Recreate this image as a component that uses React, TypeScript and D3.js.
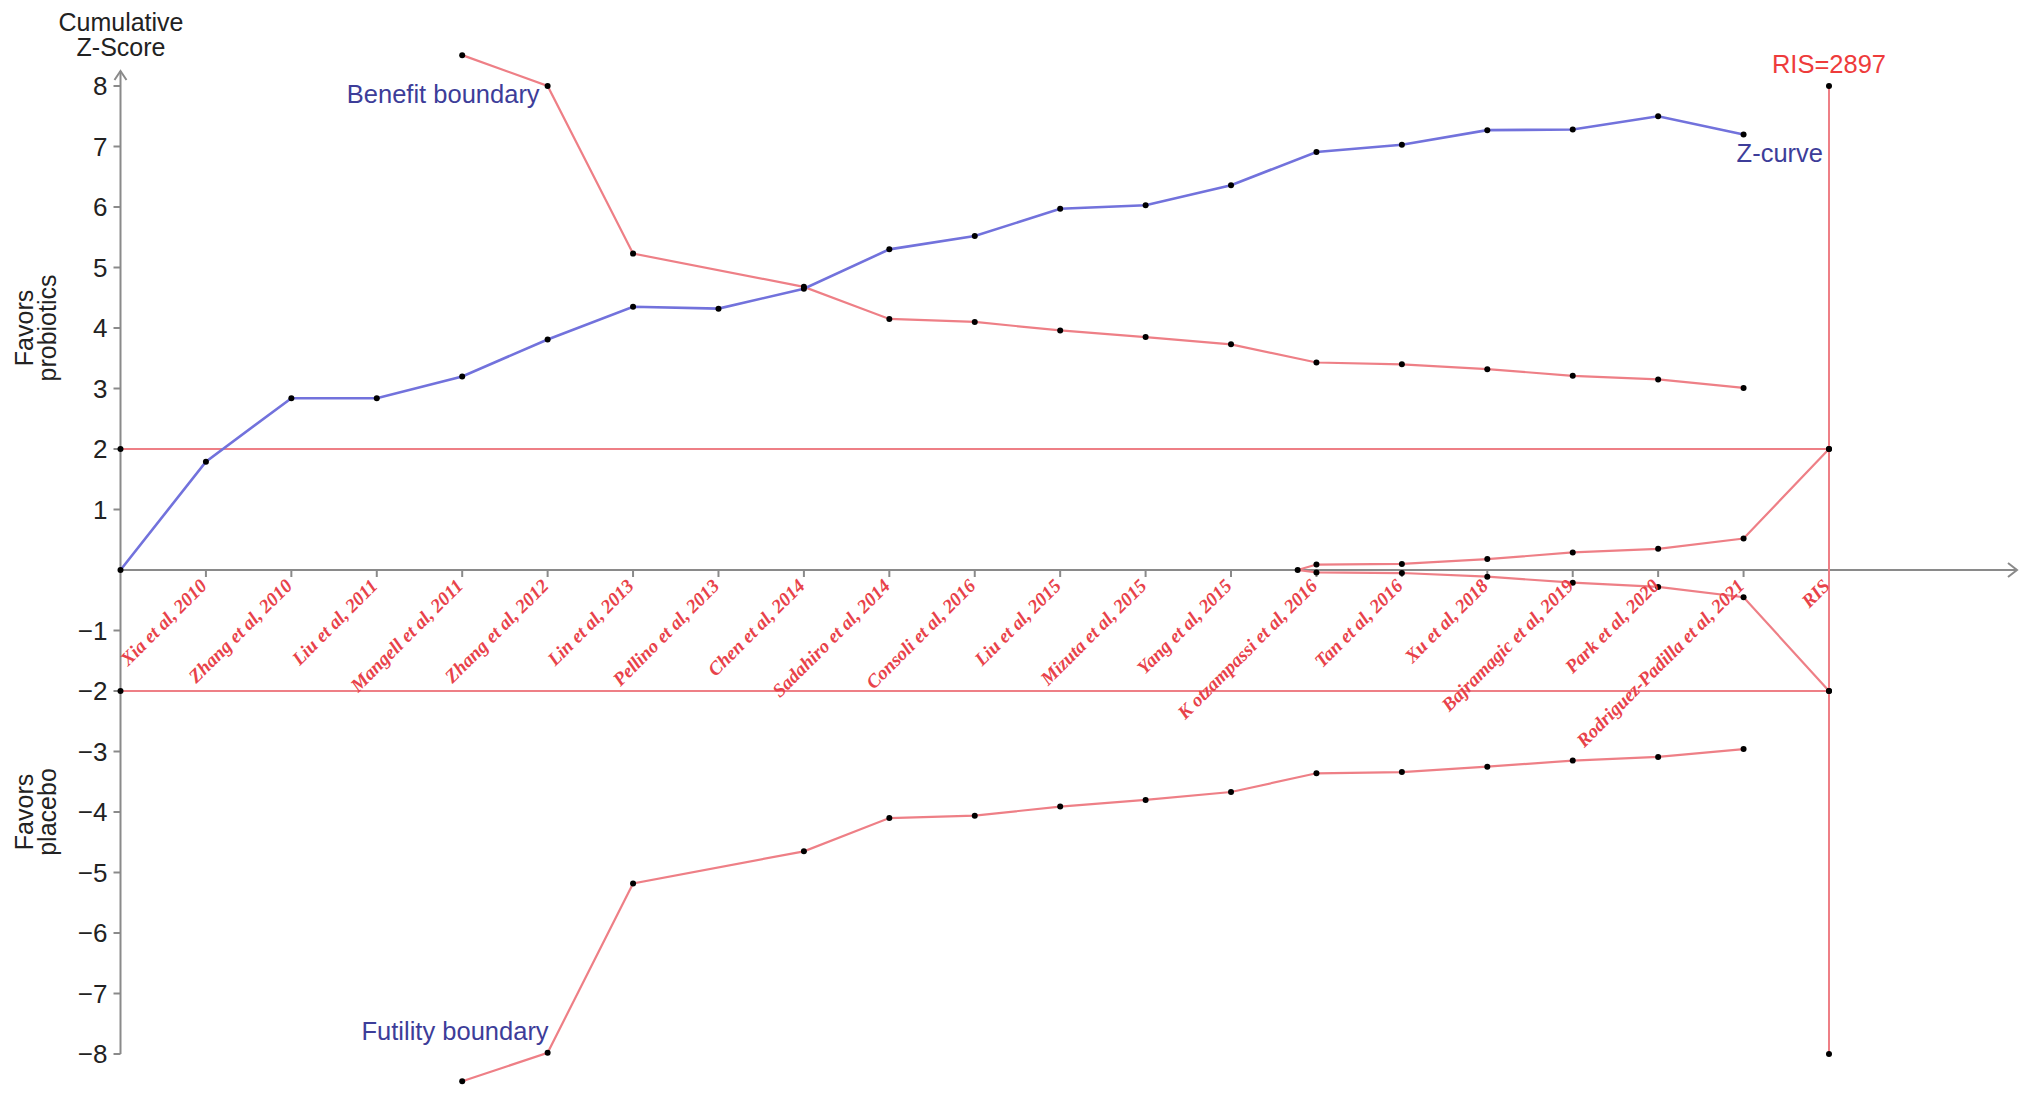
import React from "react";
import * as d3 from "d3";

// ---------- data ----------
const studies: string[] = [
  "Xia et al, 2010",
  "Zhang et al, 2010",
  "Liu et al, 2011",
  "Mangell et al, 2011",
  "Zhang et al, 2012",
  "Lin et al, 2013",
  "Pellino et al, 2013",
  "Chen et al, 2014",
  "Sadahiro et al, 2014",
  "Consoli et al, 2016",
  "Liu et al, 2015",
  "Mizuta et al, 2015",
  "Yang et al, 2015",
  "K otzampassi et al, 2016",
  "Tan et al, 2016",
  "Xu et al, 2018",
  "Bajramagic et al, 2019",
  "Park et al, 2020",
  "Rodriguez-Padilla et al, 2021",
  "RIS",
];

// cumulative Z-curve, index 0 = origin, 1..19 = studies
const zCurve: number[] = [
  0, 1.79, 2.84, 2.84, 3.2, 3.81, 4.35, 4.32, 4.65, 5.3, 5.52, 5.97, 6.03,
  6.36, 6.91, 7.03, 7.27, 7.28, 7.5, 7.2,
];

// monitoring boundaries (null = not computed at that study)
const benefitBoundary: (number | null)[] = [
  null, null, null, null, 8.51, 8.0, 5.23, null, 4.68, 4.15, 4.1, 3.96, 3.85,
  3.73, 3.43, 3.4, 3.32, 3.21, 3.15, 3.01,
];
const futilityBoundary: (number | null)[] = [
  null, null, null, null, -8.45, -7.98, -5.18, null, -4.65, -4.1, -4.06, -3.91,
  -3.8, -3.67, -3.36, -3.34, -3.25, -3.15, -3.09, -2.96,
];

// inner wedge (futility) boundaries
const wedgeIndex: number[] = [13.78, 14, 15, 16, 17, 18, 19, 20];
const wedgeUpper: number[] = [0, 0.09, 0.1, 0.18, 0.29, 0.35, 0.52, 2];
const wedgeLower: number[] = [0, -0.04, -0.05, -0.11, -0.21, -0.28, -0.45, -2];

const conventional: number[] = [2, -2];
const risBounds: number[] = [8, 2, -2, -8];
const yTicks: number[] = [-8, -7, -6, -5, -4, -3, -2, -1, 1, 2, 3, 4, 5, 6, 7, 8];
const risLabel = "RIS=2897";

// ---------- styles ----------
const W = 2032;
const H = 1100;
const RED = "#ee7f86";
const BLUE = "#7272dc";
const NAVY = "#3d3d99";
const AXIS = "#8a8a8a";
const SANS = "'Liberation Sans', Arial, Helvetica, sans-serif";

export default function App() {
  const nIdx = studies.length; // 20 (RIS)
  const x = d3.scaleLinear().domain([0, nIdx]).range([120.5, 1829]);
  const y = d3.scaleLinear().domain([-8, 8]).range([1054, 86]);

  type P = [number, number];
  const line = d3
    .line<P>()
    .x((d) => x(d[0]))
    .y((d) => y(d[1]));

  const zPts: P[] = zCurve.map((v, i) => [i, v]);
  const bPts: P[] = benefitBoundary
    .map((v, i) => [i, v] as [number, number | null])
    .filter((d) => d[1] !== null) as P[];
  const fPts: P[] = futilityBoundary
    .map((v, i) => [i, v] as [number, number | null])
    .filter((d) => d[1] !== null) as P[];
  const wuPts: P[] = wedgeIndex.map((xi, i) => [xi, wedgeUpper[i]]);
  const wlPts: P[] = wedgeIndex.map((xi, i) => [xi, wedgeLower[i]]);

  const axisY = y(0);
  const x0 = x(0);
  const xR = x(nIdx);

  const dots: P[] = [
    ...zPts,
    ...bPts,
    ...fPts,
    ...wuPts,
    ...wlPts.slice(1),
    ...conventional.map((v) => [0, v] as P),
    ...risBounds.map((v) => [nIdx, v] as P),
  ];

  return (
    <svg
      width={W}
      height={H}
      style={{ position: "absolute", left: 0, top: 0, background: "#fff" }}
    >
      {/* axes */}
      <g stroke={AXIS} strokeWidth={2} fill="none">
        <line x1={x0} x2={2017} y1={axisY} y2={axisY} />
        <polyline points={`2008,${axisY - 7} 2017,${axisY} 2008,${axisY + 7}`} />
        <line x1={x0} x2={x0} y1={y(-8)} y2={71} />
        <polyline points={`${x0 - 6},80 ${x0},71 ${x0 + 6},80`} />
        {studies.map((_, i) => (
          <line key={i} x1={x(i + 1)} x2={x(i + 1)} y1={axisY} y2={axisY + 7} />
        ))}
        {yTicks.map((t) => (
          <line key={t} x1={x0 - 7} x2={x0} y1={y(t)} y2={y(t)} />
        ))}
      </g>

      {/* y tick labels */}
      <g fontFamily={SANS} fontSize={26} fill="#222" textAnchor="end">
        {yTicks.map((t) => (
          <text key={t} x={x0 - 13} y={y(t)} dy="0.36em">
            {t < 0 ? `\u2212${-t}` : `${t}`}
          </text>
        ))}
      </g>

      {/* axis title */}
      <g fontFamily={SANS} fontSize={25} fill="#222" textAnchor="middle">
        <text x={121} y={31}>Cumulative</text>
        <text x={121} y={56}>Z-Score</text>
        <g transform={`translate(0, ${y(4)}) rotate(-90)`}>
          <text x={0} y={33}>Favors</text>
          <text x={0} y={56}>probiotics</text>
        </g>
        <g transform={`translate(0, ${y(-4)}) rotate(-90)`}>
          <text x={0} y={33}>Favors</text>
          <text x={0} y={56}>placebo</text>
        </g>
      </g>

      {/* conventional boundaries */}
      <g stroke={RED} strokeWidth={2}>
        {conventional.map((v) => (
          <line key={v} x1={x0} x2={xR} y1={y(v)} y2={y(v)} />
        ))}
        <line x1={xR} x2={xR} y1={y(8)} y2={y(-8)} />
      </g>

      {/* monitoring boundaries */}
      <g fill="none" stroke={RED} strokeWidth={2.2}>
        <path d={line(bPts) || ""} />
        <path d={line(fPts) || ""} />
        <path d={line(wuPts) || ""} />
        <path d={line(wlPts) || ""} />
      </g>

      {/* z-curve */}
      <path d={line(zPts) || ""} fill="none" stroke={BLUE} strokeWidth={2.6} />

      {/* markers */}
      <g fill="#000">
        {dots.map((d, i) => (
          <circle key={i} cx={x(d[0])} cy={y(d[1])} r={3} />
        ))}
      </g>

      {/* study labels */}
      <g
        fontFamily="'Liberation Serif', 'Times New Roman', serif"
        fontStyle="italic"
        fontWeight="bold"
        fontSize={19}
        fill="#e8424a"
        textAnchor="end"
      >
        {studies.map((s, i) => (
          <text
            key={i}
            transform={`translate(${x(i + 1) + 2}, ${axisY + 17}) rotate(-45)`}
          >
            {s}
          </text>
        ))}
      </g>

      {/* annotations */}
      <g fontFamily={SANS} fontSize={25.5}>
        <text x={x(5) - 8} y={103} fill={NAVY} textAnchor="end">
          Benefit boundary
        </text>
        <text x={x(5) + 1} y={1040} fill={NAVY} textAnchor="end">
          Futility boundary
        </text>
        <text x={x(19) - 7} y={162} fill={NAVY} textAnchor="start">
          Z-curve
        </text>
        <text x={xR} y={73} fill="#ee3b3b" textAnchor="middle">
          {risLabel}
        </text>
      </g>
    </svg>
  );
}
